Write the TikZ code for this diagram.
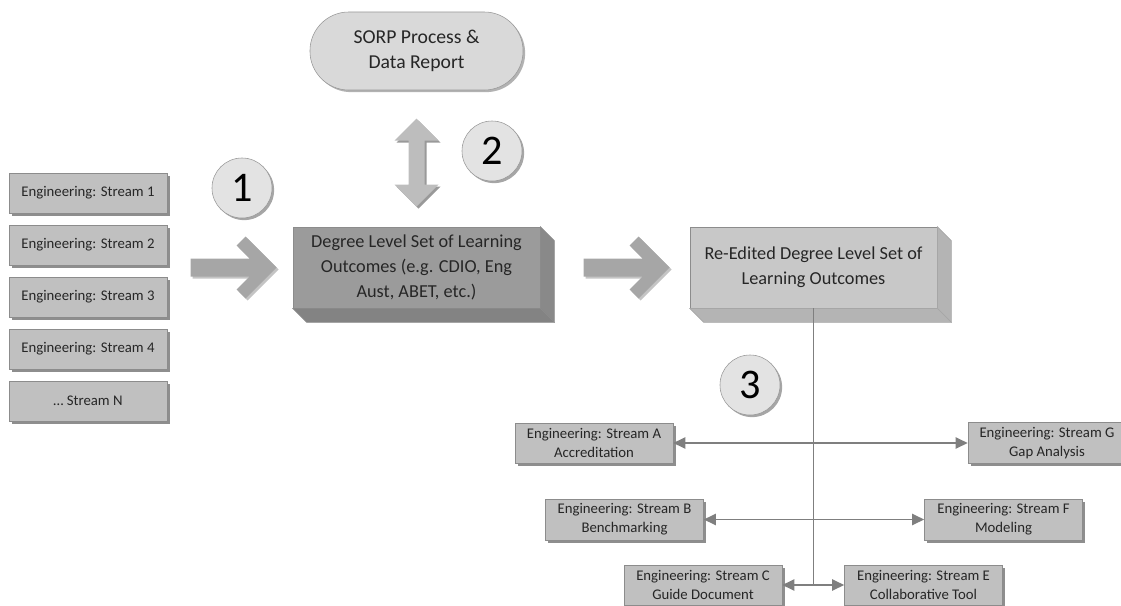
\documentclass[tikz,border=0pt]{standalone}
\usepackage{fontspec}
\setmainfont{Carlito}
\usepackage{tikz}
\usetikzlibrary{shadows,calc}
\usetikzlibrary{arrows.meta}

\definecolor{streamfill}{HTML}{C0C0C0}
\definecolor{streamline}{HTML}{8C8C8C}
\definecolor{shadowgray}{HTML}{8E8E8E}
\definecolor{degfront}{HTML}{9B9B9B}
\definecolor{degside}{HTML}{898989}
\definecolor{reedfront}{HTML}{C8C8C8}
\definecolor{reedside}{HTML}{B4B4B4}
\definecolor{pillfill}{HTML}{D9D9D9}
\definecolor{circfill}{HTML}{E3E3E3}
\definecolor{fatgray}{HTML}{A6A6A6}
\definecolor{fatshadow}{HTML}{C4C4C4}
\definecolor{dblgray}{HTML}{BDBDBD}
\definecolor{linkgray}{HTML}{7F7F7F}

\begin{document}
\begin{tikzpicture}[x=0.025cm, y=-0.025cm, >={Triangle[length=3mm, width=2.8mm]},
    stream/.style={draw=streamline, fill=streamfill, minimum width=3.95cm, minimum height=1cm, align=center,
        font=\fontsize{10.5}{13.5}\selectfont, text=black!85,
        drop shadow={shadow xshift=2pt, shadow yshift=-2pt, fill=shadowgray, opacity=1}},
    cubefront/.style={draw=black!45, minimum width=6.175cm, minimum height=2.025cm, align=center,
        font=\fontsize{13}{18}\selectfont, text=black!85},
    num/.style={circle, draw=black!40, fill=circfill, minimum size=1.5cm, inner sep=0pt,
        font=\fontsize{30}{30}\selectfont,
        drop shadow={shadow xshift=1.5pt, shadow yshift=-1.5pt, fill=black!35, opacity=1}},
    link/.style={draw=linkgray, line width=1pt},
    fatarrow/.pic={
        \fill[fatshadow, shift={(2,2)}] (-86,-9) -- (-27,-9) -- (-40,-22) -- (-31,-31) -- (0,0) -- (-31,31) -- (-40,22) -- (-27,9) -- (-86,9) -- cycle;
        \fill[fatgray] (-86,-9) -- (-27,-9) -- (-40,-22) -- (-31,-31) -- (0,0) -- (-31,31) -- (-40,22) -- (-27,9) -- (-86,9) -- cycle;
    },
    dblarrow/.pic={
        \fill[black!40, shift={(2,2)}] (0,-44) -- (22,-22) -- (8,-22) -- (8,22) -- (22,22) -- (0,44) -- (-22,22) -- (-8,22) -- (-8,-22) -- (-22,-22) -- cycle;
        \fill[dblgray] (0,-44) -- (22,-22) -- (8,-22) -- (8,22) -- (22,22) -- (0,44) -- (-22,22) -- (-8,22) -- (-8,-22) -- (-22,-22) -- cycle;
    }]
        \useasboundingbox (0,0) rectangle (1121,606);

        % Streams on the left
        \node (s1) at (88,193) [stream] {Engineering: Stream 1};
        \node (s2) at (88,245) [stream] {Engineering: Stream 2};
        \node (s3) at (88,297) [stream] {Engineering: Stream 3};
        \node (s4) at (88,349) [stream] {Engineering: Stream 4};
        \node (sn) at (88,401) [stream] {\dots\ Stream N};

        % SORP report
        \node (sorp) at (416.5,51) [draw=black!40, fill=pillfill, minimum width=5.325cm, minimum height=1.95cm,
            rounded corners=0.97cm, align=center, font=\fontsize{14}{18}\selectfont, text=black!85,
            drop shadow={shadow xshift=1.5pt, shadow yshift=-1.5pt, fill=black!30, opacity=1}]
            {SORP Process \&\\Data Report};

        % Degree level box
        \node (degree) at (416.5,267.5) [cubefront, fill=degfront]
            {Degree Level Set of Learning\\Outcomes (e.g. CDIO, Eng\\Aust, ABET, etc.)};
        \filldraw[draw=black!45, fill=degside] (degree.north east) -- ([shift={(14,14)}]degree.north east)
            -- ([shift={(14,14)}]degree.south east) -- (degree.south east) -- cycle;
        \filldraw[draw=black!45, fill=degside!105] (degree.south west) -- ([shift={(14,14)}]degree.south west)
            -- ([shift={(14,14)}]degree.south east) -- (degree.south east) -- cycle;

        % Re-edited box
        \node (reedited) at (813.5,267.5) [cubefront, fill=reedfront]
            {Re-Edited Degree Level Set of\\Learning Outcomes};
        \filldraw[draw=black!35, fill=reedside] (reedited.north east) -- ([shift={(14,14)}]reedited.north east)
            -- ([shift={(14,14)}]reedited.south east) -- (reedited.south east) -- cycle;
        \filldraw[draw=black!35, fill=reedside] (reedited.south west) -- ([shift={(14,14)}]reedited.south west)
            -- ([shift={(14,14)}]reedited.south east) -- (reedited.south east) -- cycle;

        % Big arrows
        \pic at ([xshift=-0.4cm]degree.west) {fatarrow};
        \pic at ([xshift=-0.5cm]reedited.west) {fatarrow};
        \pic at ($(sorp.south)!0.53!(degree.north)$) {dblarrow};

        % Step numbers
        \node (n1) at (242,188) [num] {1};
        \node (n2) at (492,151) [num] {2};
        \node (n3) at (750,385) [num] {3};

        % Streams A to G
        \node (sa) at (594,443) [stream] {Engineering: Stream A\\Accreditation};
        \node (sg) at (1047,443) [stream] {Engineering: Stream G\\Gap Analysis};
        \node (sb) at (624.5,519.5) [stream] {Engineering: Stream B\\Benchmarking};
        \node (sf) at (1003.5,519.5) [stream] {Engineering: Stream F\\Modeling};
        \node (sc) at (703,585) [stream] {Engineering: Stream C\\Guide Document};
        \node (se) at (923.5,585) [stream] {Engineering: Stream E\\Collaborative Tool};

        % Connectors
        \coordinate (hub) at (reedited.south |- sc.east);
        \draw[link] (reedited.south) -- (hub);
        \draw[link, <->] (sa.east) -- (sg.west);
        \draw[link, <->] (sb.east) -- (sf.west);
        \draw[link, <->] (sc.east) -- (se.west);

    \end{tikzpicture}
\end{document}
